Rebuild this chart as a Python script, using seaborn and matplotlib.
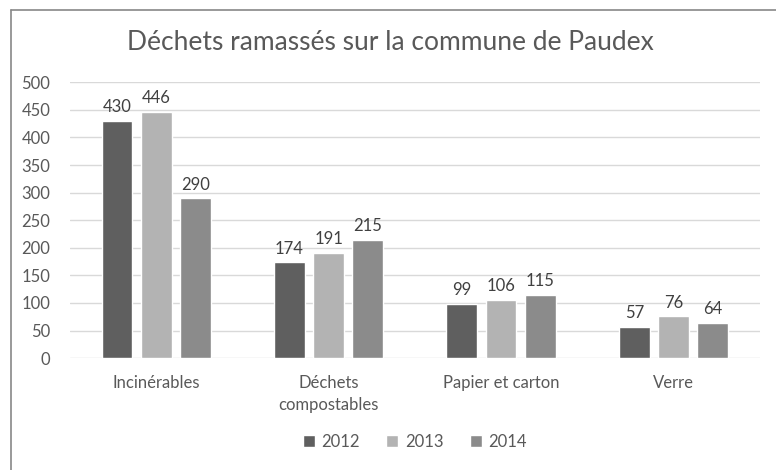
import pandas as pd
import matplotlib.pyplot as plt
import seaborn as sns
from matplotlib.lines import Line2D

sns.set_style("white")
plt.rcParams['font.family'] = ['Lato', 'DejaVu Sans']

categories = ["Incinérables", "Déchets\ncompostables", "Papier et carton", "Verre"]
years = ["2012", "2013", "2014"]
v2012 = [430, 174, 99, 57]
v2013 = [446, 191, 106, 76]
v2014 = [290, 215, 115, 64]
colors = ["#5f5f5f", "#b3b3b3", "#8b8b8b"]

rows = []
for yr, vals in zip(years, [v2012, v2013, v2014]):
    for cat, v in zip(categories, vals):
        rows.append({"cat": cat, "year": yr, "val": v})
df = pd.DataFrame(rows)

fig = plt.figure(figsize=(7.76, 4.70), dpi=100)
ax = fig.add_axes([0.090, 0.238, 0.889, 0.587])

sns.barplot(data=df, x="cat", y="val", hue="year", palette=colors,
            width=0.68, gap=0.21, ax=ax, saturation=1, legend=True)

for c in ax.containers:
    ax.bar_label(c, padding=4, fontsize=12, color="#404040")

ax.set_ylim(0, 500)
ax.set_yticks(range(0, 501, 50))
ax.yaxis.grid(True, color="#d9d9d9", lw=1)
ax.set_axisbelow(True)
for s in ax.spines.values():
    s.set_visible(False)
ax.set_xlabel("")
ax.set_ylabel("")
ax.tick_params(axis='y', length=0, pad=14, labelsize=12, labelcolor="#595959")
ax.tick_params(axis='x', length=0, pad=12, labelsize=12, labelcolor="#595959")
for lbl in ax.get_xticklabels():
    lbl.set_linespacing(1.5)

ax.legend(loc="upper center", bbox_to_anchor=(0.5, -0.22), ncol=3, frameon=False,
          fontsize=12, handlelength=0.7, handleheight=0.7, columnspacing=1.6,
          handletextpad=0.4, labelcolor="#595959")

fig.text(0.503, 0.91, "Déchets ramassés sur la commune de Paudex", ha="center",
         va="center", fontsize=19, color="#595959")

# chart frame (cropped Excel-style border)
fig.add_artist(Line2D([11/776, 11/776], [0, 1 - 10/470], color="#888888", lw=1.2))
fig.add_artist(Line2D([11/776, 1], [1 - 10/470, 1 - 10/470], color="#888888", lw=1.2))

fig.savefig("out.png", dpi=100)
